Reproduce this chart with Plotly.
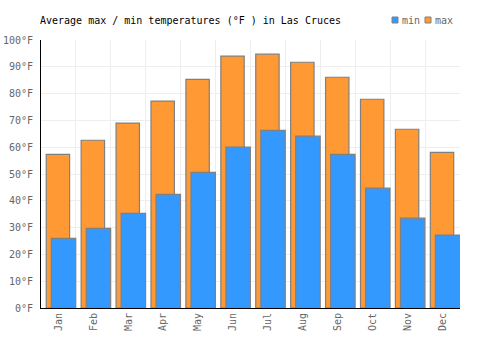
import plotly.graph_objects as go

months = ["Jan", "Feb", "Mar", "Apr", "May", "Jun", "Jul", "Aug", "Sep", "Oct", "Nov", "Dec"]
max_temp = [57.3, 62.6, 69.0, 77.2, 85.3, 94.0, 94.7, 91.7, 86.1, 77.9, 66.7, 58.1]
min_temp = [26.0, 29.7, 35.3, 42.4, 50.6, 60.0, 66.3, 64.1, 57.3, 44.7, 33.5, 27.2]
series_names = ["min", "max"]
series_colors = ["#3399ff", "#ff9933"]

font_family = "DejaVu Sans Mono"
W, H = 500, 350

fig = go.Figure()
fig.add_trace(go.Bar(
    x=months, y=max_temp, name="max", showlegend=False,
    marker=dict(color="#ff9933", line=dict(color="#808080", width=1.2)),
    offset=-0.35, width=0.67,
))
fig.add_trace(go.Bar(
    x=months, y=min_temp, name="min", showlegend=False,
    marker=dict(color="#3399ff", line=dict(color="#808080", width=1.2)),
    offset=-0.205, width=0.70,
))

# custom legend (pixel positions converted to paper coords)
shapes = []
annotations = []
legend_x = [392, 425]
for name, color, lx in zip(series_names, series_colors, legend_x):
    shapes.append(dict(type="rect", xref="paper", yref="paper",
                       x0=(lx - 41) / 419, x1=(lx + 6 - 41) / 419,
                       y0=(308 - 23) / 268, y1=(308 - 17) / 268,
                       fillcolor=color, line=dict(color="#808080", width=1)))
    annotations.append(dict(text=name, xref="paper", yref="paper",
                            x=(lx + 8 - 41) / 419, y=(308 - 20) / 268,
                            xanchor="left", yanchor="middle", showarrow=False,
                            font=dict(family=font_family, size=10, color="#666666")))

fig.update_layout(
    width=W, height=H,
    margin=dict(l=41, r=40, t=40, b=42, autoexpand=False),
    paper_bgcolor="white", plot_bgcolor="white",
    barmode="overlay",
    font=dict(family=font_family, size=10, color="#666666"),
    title=dict(text="Average max / min temperatures (°F ) in Las Cruces",
               x=40/W, xanchor="left", y=1-20/H, yanchor="middle",
               font=dict(family=font_family, size=10, color="#000000")),
    showlegend=False,
    shapes=shapes, annotations=annotations,
)
fig.update_xaxes(
    type="category", tickson="boundaries", showgrid=True, gridcolor="#eeeeee",
    showline=True, linecolor="#000000", linewidth=1,
    tickangle=-90, ticks="", range=[-0.5, 11.5],
    tickfont=dict(family=font_family, size=10, color="#666666"),
)
fig.update_yaxes(
    range=[0, 100], dtick=10, ticksuffix="°F", showgrid=True, gridcolor="#eeeeee",
    showline=True, linecolor="#000000", linewidth=1, zeroline=False,
    ticks="", ticklabelstandoff=5,
    tickfont=dict(family=font_family, size=10, color="#666666"),
)

fig.write_html("out.html")
